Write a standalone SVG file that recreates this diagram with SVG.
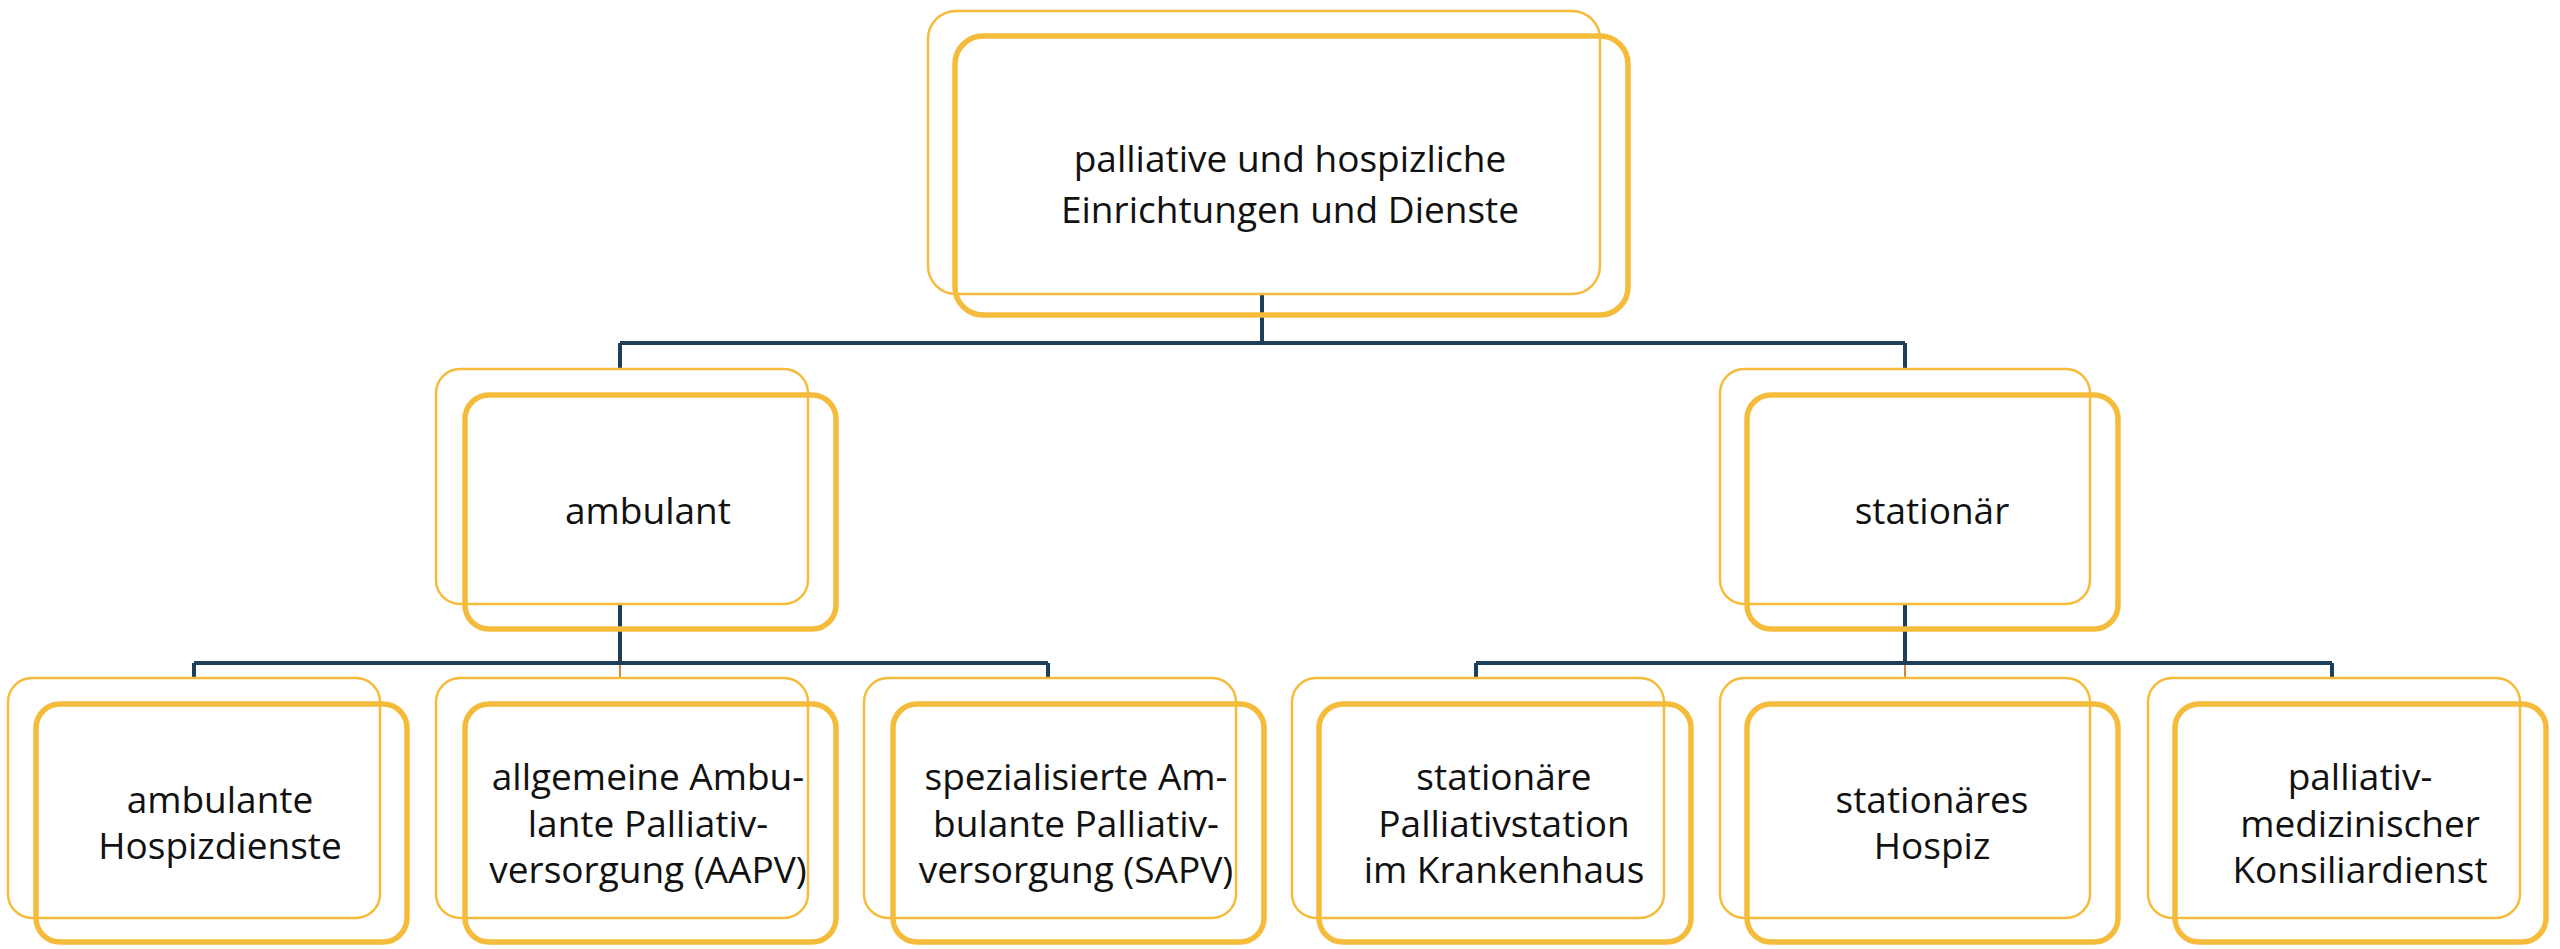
<svg xmlns="http://www.w3.org/2000/svg" width="2560" height="949" viewBox="0 0 2560 949">
<style>
.o{fill:none;stroke:#F5BC3C;stroke-width:2.5}
.i{fill:none;stroke:#F5BC3C;stroke-width:5.5}
.c{fill:none;stroke:#1E3F5A;stroke-width:4}
.t{font-family:"Open Sans","Liberation Sans",sans-serif;font-size:37px;fill:#111;text-anchor:middle}
</style>
<rect width="2560" height="949" fill="#fff"/>
<g id="connectors">
<path class="c" d="M1262 294V343M620 343H1905M620 343V369M1905 343V369"/>
<path class="c" d="M620 604V663M194 663H1048M194 663V678M1048 663V678"/>
<path class="c" d="M1905 604V663M1476 663H2332M1476 663V678M2332 663V678"/>
<path d="M620 665V678M1905 665V678" stroke="#D9863A" stroke-width="2" fill="none"/>
</g>
<g id="root"><rect class="o" x="928" y="11" width="672" height="283" rx="28"/><rect class="i" x="955" y="36" width="673" height="279" rx="28"/>
<text class="t" x="1290" y="172">palliative und hospizliche</text><text class="t" x="1290" y="223">Einrichtungen und Dienste</text></g>
<g id="ambulant"><rect class="o" x="436" y="369" width="372" height="235" rx="24"/><rect class="i" x="465" y="395" width="371" height="234" rx="24"/><text class="t" x="648" y="524">ambulant</text></g>
<g id="stationaer"><rect class="o" x="1720" y="369" width="370" height="235" rx="24"/><rect class="i" x="1747" y="395" width="371" height="234" rx="24"/><text class="t" x="1932" y="524">stationär</text></g>
<g id="n1"><rect class="o" x="8" y="678" width="372" height="240" rx="24"/><rect class="i" x="36" y="704" width="371" height="238" rx="24"/><text class="t" x="220" y="813">ambulante</text><text class="t" x="220" y="859">Hospizdienste</text></g>
<g id="n2"><rect class="o" x="436" y="678" width="372" height="240" rx="24"/><rect class="i" x="465" y="704" width="371" height="238" rx="24"/><text class="t" x="648" y="790">allgemeine Ambu-</text><text class="t" x="648" y="837">lante Palliativ-</text><text class="t" x="648" y="883">versorgung (AAPV)</text></g>
<g id="n3"><rect class="o" x="864" y="678" width="372" height="240" rx="24"/><rect class="i" x="893" y="704" width="371" height="238" rx="24"/><text class="t" x="1076" y="790">spezialisierte Am-</text><text class="t" x="1076" y="837">bulante Palliativ-</text><text class="t" x="1076" y="883">versorgung (SAPV)</text></g>
<g id="n4"><rect class="o" x="1292" y="678" width="372" height="240" rx="24"/><rect class="i" x="1319" y="704" width="372" height="238" rx="24"/><text class="t" x="1504" y="790">stationäre</text><text class="t" x="1504" y="837">Palliativstation</text><text class="t" x="1504" y="883">im Krankenhaus</text></g>
<g id="n5"><rect class="o" x="1720" y="678" width="370" height="240" rx="24"/><rect class="i" x="1747" y="704" width="371" height="238" rx="24"/><text class="t" x="1932" y="813">stationäres</text><text class="t" x="1932" y="859">Hospiz</text></g>
<g id="n6"><rect class="o" x="2148" y="678" width="372" height="240" rx="24"/><rect class="i" x="2175" y="704" width="371" height="238" rx="24"/><text class="t" x="2360" y="790">palliativ-</text><text class="t" x="2360" y="837">medizinischer</text><text class="t" x="2360" y="883">Konsiliardienst</text></g>
</svg>
